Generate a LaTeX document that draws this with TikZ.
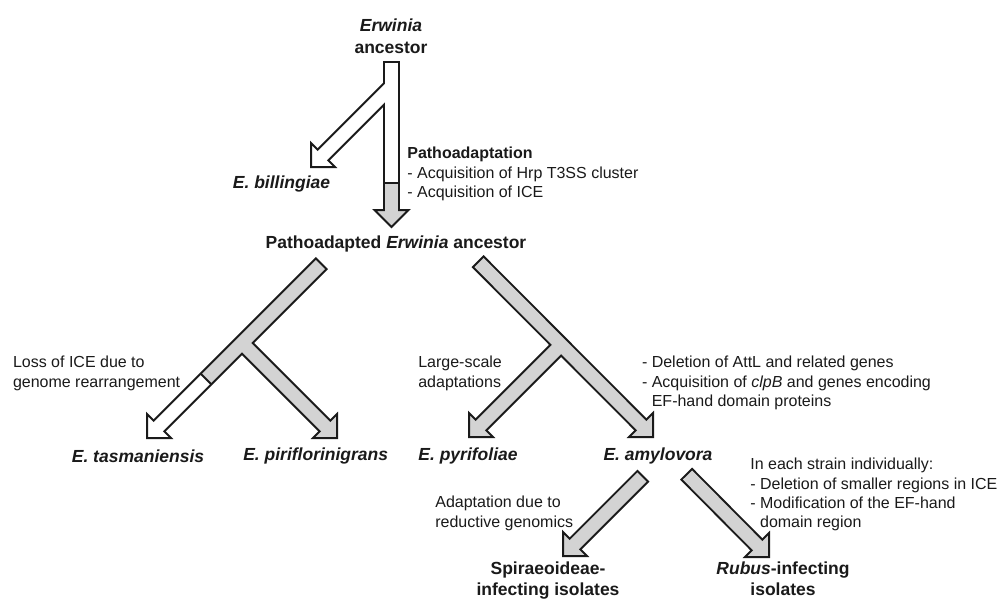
\documentclass[tikz,border=0pt]{standalone}
\usepackage{fontspec}
\setmainfont{Liberation Sans}
\usetikzlibrary{calc}
\definecolor{Ink}{HTML}{1A1A1A}
\definecolor{Shade}{HTML}{D3D3D3}
\definecolor{Paper}{HTML}{FFFFFF}
\tikzset{
  rim/.style={draw=Ink, line width=0.34cm},
  core/.style={line width=0.26cm},
  tiphead/.style={draw=Ink, line width=0.04cm, miter limit=10},
  cutline/.style={draw=Ink, line width=0.04cm},
  taxon/.style={font=\fontsize{9.96}{12.5}\selectfont\bfseries, text=Ink,
    inner sep=0pt, align=center},
  note/.style={font=\fontsize{9.1}{10.9}\selectfont, text=Ink,
    inner sep=0pt, align=left, anchor=north west}
}
\newcommand{\blockhead}[3]{%
  \draw[tiphead, fill=#3] ($(#1)!1!90:(#2)$) -- (#2) -- ($(#1)!1!-90:(#2)$) -- cycle;}

\begin{document}
\begin{tikzpicture}[x=0.02cm, y=-0.02cm]
  \fill[Paper] (0,0) rectangle (1000,599);
  \useasboundingbox (0,0) rectangle (1000,599);

  \coordinate (aTop) at (391.5,63);
  \coordinate (bJoin) at (391.5,86.5);
  \coordinate (aCut) at (391.5,183);
  \coordinate (aBase) at (391.5,210);
  \coordinate (aTip) at (391.5,227);
  \coordinate (bBase) at (323,155);
  \coordinate (bTip) at (311,167);
  \coordinate (cTop) at (320.5,264.5);
  \coordinate (dJoin) at (242,343);
  \coordinate (cCut) at (206,379);
  \coordinate (cBase) at (159,426);
  \coordinate (cTip) at (147,438);
  \coordinate (dBase) at (325,426);
  \coordinate (dTip) at (337,438);
  \coordinate (eTop) at (479,262.5);
  \coordinate (fJoin) at (561,345);
  \coordinate (eBase) at (641,425);
  \coordinate (eTip) at (653,437);
  \coordinate (fBase) at (481,425);
  \coordinate (fTip) at (469,437);
  \coordinate (gTop) at (642,477);
  \coordinate (gBase) at (575,544);
  \coordinate (gTip) at (563,556);
  \coordinate (hTop) at (687.5,475);
  \coordinate (hBase) at (757,545);
  \coordinate (hTip) at (769,557);

  \foreach \from/\to in {aTop/aBase,cTop/cBase,eTop/eBase,gTop/gBase,hTop/hBase}
    \draw[rim, shorten <=-0.04cm] (\from) -- (\to);
  \foreach \from/\to in {bJoin/bBase,dJoin/dBase,fJoin/fBase}
    \draw[rim] (\from) -- (\to);

  \blockhead{aBase}{aTip}{Shade}
  \blockhead{bBase}{bTip}{Paper}
  \blockhead{cBase}{cTip}{Paper}
  \blockhead{dBase}{dTip}{Shade}
  \blockhead{eBase}{eTip}{Shade}
  \blockhead{fBase}{fTip}{Shade}
  \blockhead{gBase}{gTip}{Shade}
  \blockhead{hBase}{hTip}{Shade}

  \draw[core, Paper, shorten >=-0.04cm] (bJoin) -- (bBase);
  \draw[core, Paper] (aTop) -- (aCut);
  \draw[core, Shade, shorten >=-0.04cm] (aCut) -- (aBase);
  \draw[core, Shade, shorten >=-0.04cm] (dJoin) -- (dBase);
  \draw[core, Shade] (cTop) -- (cCut);
  \draw[core, Paper, shorten >=-0.04cm] (cCut) -- (cBase);
  \draw[core, Shade, shorten >=-0.04cm] (fJoin) -- (fBase);
  \draw[core, Shade, shorten >=-0.04cm] (eTop) -- (eBase);
  \draw[core, Shade, shorten >=-0.04cm] (gTop) -- (gBase);
  \draw[core, Shade, shorten >=-0.04cm] (hTop) -- (hBase);

  \draw[cutline] ($(aCut)!0.15cm!90:(aTip)$) -- ($(aCut)!0.15cm!-90:(aTip)$);
  \draw[cutline] ($(cCut)!0.15cm!90:(cTip)$) -- ($(cCut)!0.15cm!-90:(cTip)$);

  \node[taxon, anchor=north] (root) at (391,18.6) {\textit{Erwinia}\\ancestor};
  \node[taxon] (billingiae) at (281.5,184) {\textit{E. billingiae}};
  \node[note] (pathonote) at (407,147) {\textbf{Pathoadaptation}\\- Acquisition of Hrp T3SS cluster\\- Acquisition of ICE};
  \node[taxon] (pathoroot) at (396,244) {Pathoadapted \textit{Erwinia} ancestor};
  \node[note] (lossnote) at (12.7,356) {Loss of ICE due to\\genome rearrangement};
  \node[taxon] (tasmaniensis) at (138,456) {\textit{E. tasmaniensis}};
  \node[taxon] (piriflorinigrans) at (315.7,456) {\textit{E. piriflorinigrans}};
  \node[taxon] (pyrifoliae) at (468,456) {\textit{E. pyrifoliae}};
  \node[taxon] (amylovora) at (658,456) {\textit{E. amylovora}};
  \node[note] (scalenote) at (418,356) {Large-scale\\adaptations};
  \node[note] (attlnote) at (641.7,356) {- Deletion of AttL and related genes\\- Acquisition of \textit{clpB} and genes encoding\\\phantom{- }EF-hand domain proteins};
  \node[note] (reductnote) at (435,496) {Adaptation due to\\reductive genomics};
  \node[note] (strainnote) at (750,458) {In each strain individually:\\- Deletion of smaller regions in ICE\\- Modification of the EF-hand\\\phantom{- }domain region};
  \node[taxon, anchor=north, font=\fontsize{9.96}{12}\selectfont\bfseries] (spiraeoideae) at (548,561) {Spiraeoideae-\\infecting isolates};
  \node[taxon, anchor=north, font=\fontsize{9.96}{12}\selectfont\bfseries] (rubus) at (783,561) {\textit{Rubus}-infecting\\isolates};
\end{tikzpicture}
\end{document}
